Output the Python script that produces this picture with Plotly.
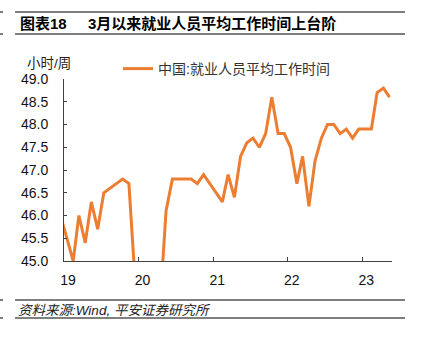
import pandas as pd
import plotly.graph_objects as go

# ---- data ----
months = [
    "2018-12", "2019-02", "2019-03", "2019-04", "2019-05", "2019-06", "2019-07",
    "2019-08", "2019-09", "2019-10", "2019-11", "2019-12",
    "2020-02", "2020-03", "2020-04", "2020-05", "2020-06", "2020-07", "2020-08",
    "2020-09", "2020-10", "2020-11",
    "2021-02", "2021-03", "2021-04", "2021-05", "2021-06", "2021-07", "2021-08",
    "2021-09", "2021-10", "2021-11", "2021-12",
    "2022-01", "2022-02", "2022-03", "2022-04", "2022-05", "2022-06", "2022-07",
    "2022-08", "2022-09", "2022-10", "2022-11", "2022-12",
    "2023-01", "2023-02", "2023-03", "2023-04", "2023-05",
]
hours = [
    46.0, 45.0, 46.0, 45.4, 46.3, 45.7, 46.5,
    46.6, 46.7, 46.8, 46.7, 44.8,
    40.2, 42.5, 44.0, 46.1, 46.8, 46.8, 46.8,
    46.8, 46.7, 46.9,
    46.3, 46.9, 46.4, 47.3, 47.6, 47.7, 47.5,
    47.8, 48.6, 47.8, 47.8,
    47.5, 46.7, 47.3, 46.2, 47.2, 47.7, 48.0,
    48.0, 47.8, 47.9, 47.7, 47.9,
    47.9, 47.9, 48.7, 48.8, 48.6,
]
series_name = "中国:就业人员平均工作时间"
year_ticks = ["2019-01-01", "2020-01-01", "2021-01-01", "2022-01-01", "2023-01-01"]
year_labels = ["19", "20", "21", "22", "23"]
y_ticks = [45.0, 45.5, 46.0, 46.5, 47.0, 47.5, 48.0, 48.5, 49.0]

x_dates = pd.to_datetime(months) + pd.Timedelta(days=14)

FONT = "Liberation Sans, Arial, Noto Sans CJK SC, sans-serif"
ORANGE = "#ED7D31"
AXIS = "#404040"

# plot area in pixels (for converting decoration positions)
L, R, T, B = 64, 40, 79, 78
W, H = 432, 339
PW, PH = W - L - R, H - T - B


def px(xp):
    return (xp - L) / PW


def py(yp):
    return (H - B - yp) / PH


fig = go.Figure()
fig.add_trace(go.Scatter(
    x=x_dates, y=hours, mode="lines", name=series_name,
    line=dict(color=ORANGE, width=3), showlegend=True,
))

fig.update_layout(
    width=W, height=H,
    margin=dict(l=L, r=R, t=T, b=B),
    paper_bgcolor="white", plot_bgcolor="white",
    font=dict(family=FONT, size=14, color="#222222"),
    showlegend=True,
    legend=dict(
        orientation="h", x=px(118), y=py(53), xanchor="left", yanchor="top",
        font=dict(size=14, color="#333333"), bgcolor="rgba(0,0,0,0)",
    ),
    xaxis=dict(
        type="date", range=["2019-01-01", "2023-05-27"],
        tickmode="array", tickvals=year_ticks, ticktext=year_labels,
        showgrid=False, zeroline=False,
        showline=True, linecolor=AXIS, linewidth=1,
        ticks="inside", ticklen=4, tickcolor=AXIS,
        tickfont=dict(size=14, color="#111111"),
        ticklabelshift=4, ticklabelstandoff=6,
    ),
    yaxis=dict(
        range=[45, 49], tickmode="array", tickvals=y_ticks,
        tickformat=".1f",
        showgrid=False, zeroline=False,
        showline=True, linecolor=AXIS, linewidth=1,
        ticks="inside", ticklen=3, tickcolor=AXIS,
        tickfont=dict(size=14, color="#111111"),
        ticklabelstandoff=12,
    ),
)

ann = []
ann.append(dict(text="<b>图表18</b>", x=px(18), y=py(23), xref="paper", yref="paper",
                xanchor="left", yanchor="middle", showarrow=False,
                font=dict(size=15, color="#000000", family=FONT)))
ann.append(dict(text="<b>3月以来就业人员平均工作时间上台阶</b>", x=px(86), y=py(23),
                xref="paper", yref="paper", xanchor="left", yanchor="middle",
                showarrow=False, font=dict(size=15, color="#000000", family=FONT)))
ann.append(dict(text="小时/周", x=px(25), y=py(63.5), xref="paper", yref="paper",
                xanchor="left", yanchor="middle", showarrow=False,
                font=dict(size=13.5, color="#222222", family=FONT)))
ann.append(dict(text="<i>资料来源:Wind, 平安证券研究所</i>", x=px(16), y=py(310),
                xref="paper", yref="paper", xanchor="left", yanchor="middle",
                showarrow=False, font=dict(size=13.5, color="#222222", family=FONT)))
fig.update_layout(annotations=ann)

shapes = []
for yy in (12, 34, 300, 318):
    shapes.append(dict(type="line", xref="paper", yref="paper",
                       x0=px(15), x1=px(405), y0=py(yy), y1=py(yy),
                       line=dict(color="#000000", width=1)))
    shapes.append(dict(type="line", xref="paper", yref="paper",
                       x0=px(0), x1=px(3), y0=py(yy), y1=py(yy),
                       line=dict(color="#000000", width=1)))
fig.update_layout(shapes=shapes)

fig.write_html("out.html")
